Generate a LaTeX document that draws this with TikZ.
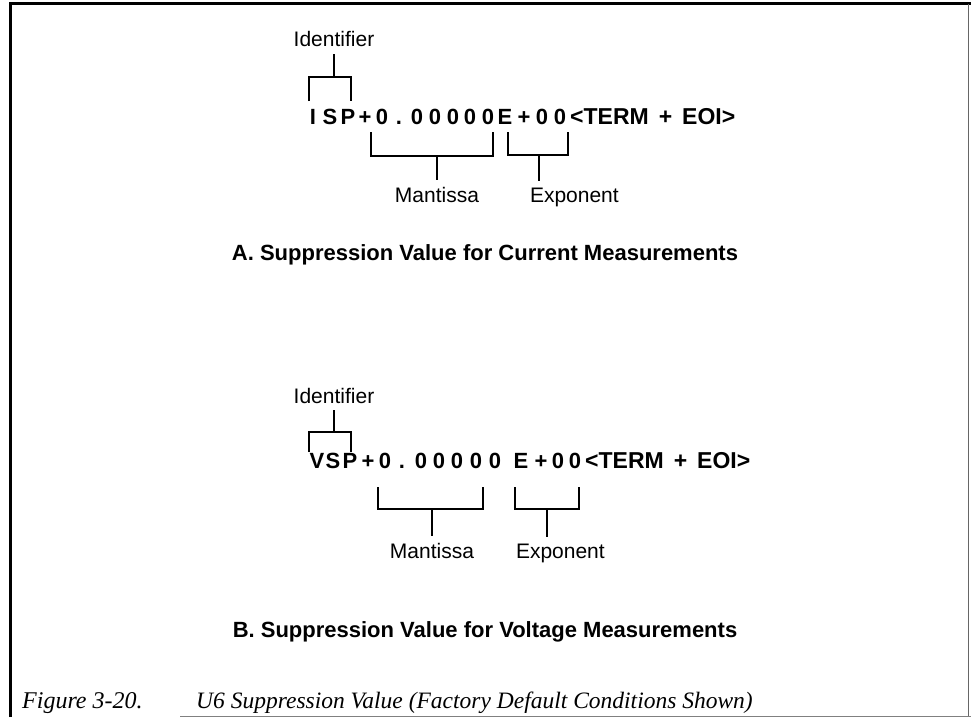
\documentclass[tikz,border=0pt]{standalone}
\usepackage{fontspec}
\newfontfamily\sans{Liberation Sans}
\newfontfamily\capserif{Liberation Serif}
\usetikzlibrary{positioning}

\begin{document}
\begin{tikzpicture}[x=1pt,y=-1pt,
  chr/.style={font=\sans\bfseries\fontsize{22}{22}\selectfont,inner sep=0pt,anchor=base},
  term/.style={font=\sans\bfseries\fontsize{23}{23}\selectfont,inner sep=0pt,anchor=base west},
  lab/.style={font=\sans\fontsize{21}{22}\selectfont,inner sep=0pt,outer sep=7pt,anchor=base},
  ttl/.style={font=\sans\bfseries\fontsize{22}{24}\selectfont,inner sep=0pt},
  capt/.style={font=\capserif\itshape\fontsize{24}{26}\selectfont,inner sep=0pt,anchor=base west},
  brk/.style={line width=2.2pt},
  frm/.style={line width=3pt}]
  \useasboundingbox (0,0) rectangle (971,717);
  % frame
  \draw[frm] (10,717) -- (10,4) -- (971,4);
  \draw[black!60,line width=0.8pt] (968,4) -- (968,717);
  \draw[black!50,line width=1pt] (180,716.5) -- (971,716.5);

  % A: current
  \foreach \c/\x [count=\i] in {I/313,S/330,P/348,+/365,0/382,./399,0/417,0/435,0/453,0/470,0/488,E/505,+/524,0/542,0/560}
    \node[chr] (a\i) at (\x,124) {\c};
  \node[term] (termA) at (570,124) {<TERM\hspace{10pt}+\hspace{10pt}EOI>};
  \node[lab] (idA) at (334,47) {Identifier};
  \coordinate (ibA) at (330,77);
  \draw[brk] (309,101) |- (351,77) -- (351,101);
  \draw[brk] (idA) -- (idA |- ibA);
  \draw[brk] (371,132) |- (493,156) -- (493,132);
  \coordinate (mbA) at (437,156);
  \node[lab] (manA) at (437,202) {Mantissa};
  \draw[brk] (mbA) -- (manA);
  \draw[brk] (508,132) |- (568,155) -- (568,132);
  \coordinate (ebA) at (539,155);
  \node[lab,anchor=base west] (expA) at (523,202) {Exponent};
  \draw[brk] (ebA) -- (ebA |- expA.north);
  \node[ttl] (ttlA) at (485,255) {A. Suppression Value for Current Measurements};

  % B: voltage
  \foreach \c/\x [count=\i] in {V/317,S/333,P/350,+/368,0/385,./402,0/421,0/439,0/457,0/476,0/495,E/521,+/541,0/558,0/575}
    \node[chr] (b\i) at (\x,468) {\c};
  \node[term] (termB) at (585,468) {<TERM\hspace{10pt}+\hspace{10pt}EOI>};
  \node[lab] (idB) at (334,403) {Identifier};
  \coordinate (ibB) at (330,432);
  \draw[brk] (309,452) |- (351,432) -- (351,452);
  \draw[brk] (idB) -- (idB |- ibB);
  \draw[brk] (378,487) |- (483,509) -- (483,487);
  \coordinate (mbB) at (432,509);
  \node[lab] (manB) at (432,558) {Mantissa};
  \draw[brk] (mbB) -- (manB);
  \draw[brk] (515,487) |- (579,509) -- (579,487);
  \coordinate (ebB) at (547,509);
  \node[lab,anchor=base west] (expB) at (509,558) {Exponent};
  \draw[brk] (ebB) -- (ebB |- expB.north);
  \node[ttl] (ttlB) at (485,632) {B. Suppression Value for Voltage Measurements};

  % caption
  \node[capt] (fig) at (22,708) {Figure 3-20.};
  \node[capt,font=\capserif\itshape\fontsize{23.5}{26}\selectfont] (figtxt) at (196,708) {U6 Suppression Value (Factory Default Conditions Shown)};
\end{tikzpicture}
\end{document}
